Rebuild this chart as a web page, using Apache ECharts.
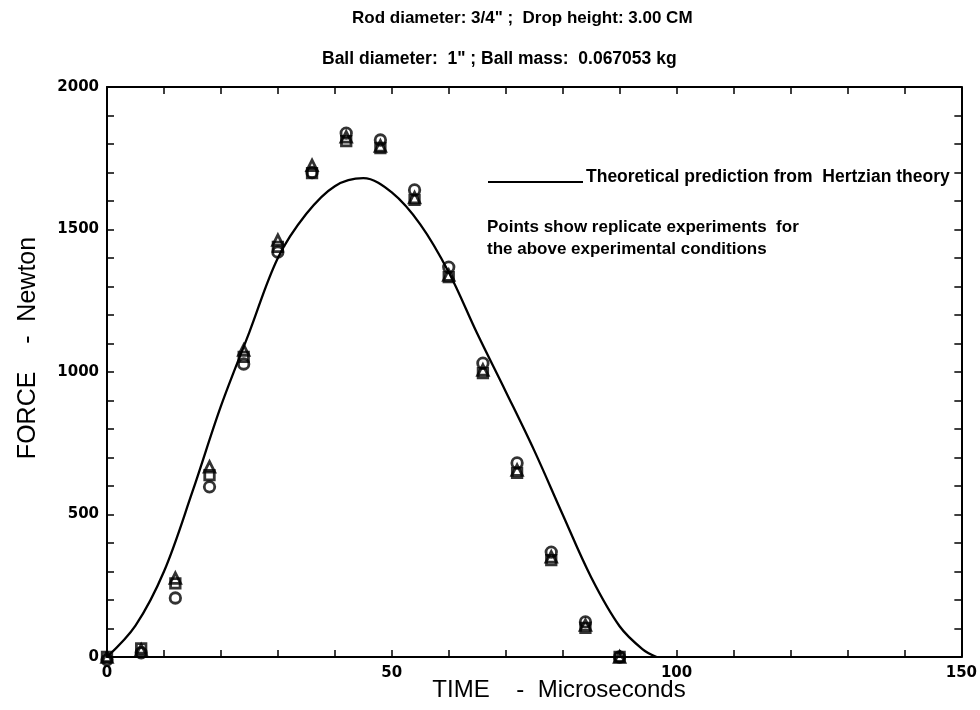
<!DOCTYPE html>
<html>
<head>
<meta charset="utf-8">
<script src="https://cdn.jsdelivr.net/npm/echarts@6/dist/echarts.min.js"></script>
<style>
html,body{margin:0;padding:0;background:#fff;}
#chart{width:980px;height:710px;}
</style>
</head>
<body>
<div id="chart"></div>
<script>
// ---- data ----
const timeUs = [0, 6, 12, 18, 24, 30, 36, 42, 48, 54, 60, 66, 72, 78, 84, 90];
const forceCircle   = [-10, 15, 207, 597, 1028, 1421, 1700, 1838, 1814, 1639, 1368, 1031, 681, 368, 123, 0];
const forceSquare   = [0, 30, 258, 638, 1053, 1439, 1698, 1810, 1786, 1604, 1333, 996, 646, 340, 102, 0];
const forceTriangle = [0, 25, 277, 667, 1077, 1463, 1725, 1825, 1793, 1612, 1340, 1007, 656, 351, 112, 0];

const theoryTime  = [0, 5, 10, 15, 20, 25, 30, 35, 40, 45, 50, 55, 60, 65, 70, 75, 80, 85, 90, 94, 96.5];
const theoryForce = [0, 110, 300, 580, 880, 1140, 1400, 1555, 1652, 1680, 1630, 1518, 1350, 1135, 932, 725, 500, 280, 108, 28, 0];

const xTickLabels = [0, 50, 100, 150];
const yTickLabels = [0, 500, 1000, 1500, 2000];

const titleLine1 = 'Rod diameter: 3/4" ;  Drop height: 3.00 CM';
const titleLine2 = 'Ball diameter:  1" ; Ball mass:  0.067053 kg';
const legendLine = 'Theoretical prediction from  Hertzian theory';
const noteLines = ['Points show replicate experiments  for', 'the above experimental conditions'];
const xTitle = 'TIME    -  Microseconds';
const yTitle = 'FORCE    -  Newton';

// ---- chart ----
const FONT = '"Liberation Sans", Arial, Helvetica, sans-serif';
const TICKFONT = '"DejaVu Sans", "Liberation Sans", sans-serif';
const chart = echarts.init(document.getElementById('chart'), null, {renderer: 'canvas'});

function pairs(xs, ys) { return xs.map((x, i) => [x, ys[i]]); }

const xMin = xTickLabels[0], xMax = xTickLabels[xTickLabels.length - 1];
const yMin = yTickLabels[0], yMax = yTickLabels[yTickLabels.length - 1];
const xStep = xTickLabels[1] - xTickLabels[0];
const yStep = yTickLabels[1] - yTickLabels[0];

const axisLine = {show: true, onZero: false, lineStyle: {color: '#000', width: 2}};
const tickStyle = {color: '#000', width: 1.5};

function mkAxis(kind, pos, showLabels) {
  const isX = kind === 'x';
  return {
    type: 'value',
    position: pos,
    min: isX ? xMin : yMin,
    max: isX ? xMax : yMax,
    interval: isX ? xStep : yStep,
    axisLine: axisLine,
    axisTick: {show: true, inside: true, length: 7, lineStyle: tickStyle},
    minorTick: {show: true, splitNumber: 5, length: 7, lineStyle: tickStyle},
    splitLine: {show: false},
    minorSplitLine: {show: false},
    axisLabel: {
      show: showLabels,
      color: '#000',
      fontFamily: TICKFONT,
      fontWeight: 'bold',
      fontSize: 15,
      margin: isX ? 9 : 8,
      formatter: function (v) { return String(v); }
    }
  };
}

const markerStyle = {color: 'rgba(0,0,0,0)', borderColor: '#000', borderWidth: 2.8};

const option = {
  backgroundColor: '#fff',
  animation: false,
  grid: {left: 107, right: 15, top: 87, bottom: 53, containLabel: false},
  xAxis: [mkAxis('x', 'bottom', true), mkAxis('x', 'top', false)],
  yAxis: [mkAxis('y', 'left', true), mkAxis('y', 'right', false)],
  series: [
    {
      type: 'line',
      name: 'Theory',
      data: pairs(theoryTime, theoryForce),
      smooth: 0.35,
      showSymbol: false,
      lineStyle: {color: '#000', width: 2.3},
      clip: true,
      z: 3
    },
    {
      type: 'scatter', name: 'Circle', symbol: 'circle', symbolSize: 10.5,
      data: pairs(timeUs, forceCircle), itemStyle: markerStyle, clip: false, z: 4
    },
    {
      type: 'scatter', name: 'Square', symbol: 'rect', symbolSize: 9.5,
      data: pairs(timeUs, forceSquare), itemStyle: markerStyle, clip: false, z: 4
    },
    {
      type: 'scatter', name: 'Triangle', symbol: 'triangle', symbolSize: 10.5,
      data: pairs(timeUs, forceTriangle), itemStyle: markerStyle, clip: false, z: 4
    }
  ],
  graphic: [
    {type: 'text', x: 352, y: 18, style: {text: titleLine1, fill: '#000', font: 'bold 17px ' + FONT, verticalAlign: 'middle'}},
    {type: 'text', x: 322, y: 59, style: {text: titleLine2, fill: '#000', font: 'bold 17.5px ' + FONT, verticalAlign: 'middle'}},
    {type: 'line', shape: {x1: 488, y1: 182, x2: 583, y2: 182}, style: {stroke: '#000', lineWidth: 2}},
    {type: 'text', x: 586, y: 177, style: {text: legendLine, fill: '#000', font: 'bold 17.5px ' + FONT, verticalAlign: 'middle'}},
    {type: 'text', x: 487, y: 227, style: {text: noteLines[0], fill: '#000', font: 'bold 17px ' + FONT, verticalAlign: 'middle'}},
    {type: 'text', x: 487, y: 249, style: {text: noteLines[1], fill: '#000', font: 'bold 17px ' + FONT, verticalAlign: 'middle'}},
    {type: 'text', x: 559, y: 690, style: {text: xTitle, fill: '#000', font: '24px ' + FONT, align: 'center', verticalAlign: 'middle'}},
    {type: 'text', x: 28, y: 348, rotation: Math.PI / 2, style: {text: yTitle, fill: '#000', font: '25px ' + FONT, align: 'center', verticalAlign: 'middle'}}
  ]
};

chart.setOption(option);
</script>
</body>
</html>
